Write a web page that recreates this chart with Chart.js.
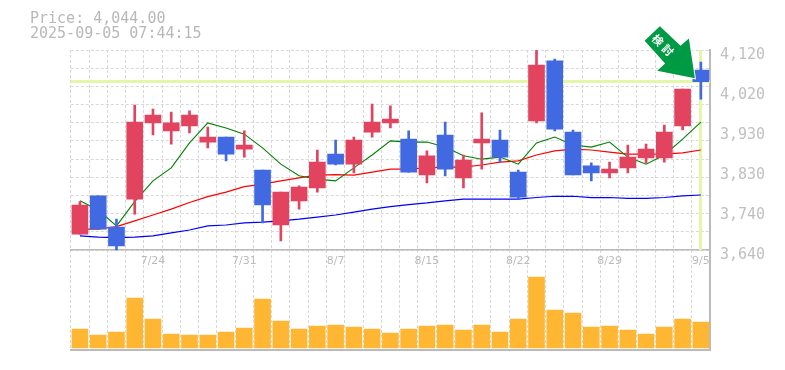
<!DOCTYPE html>
<html>
<head>
<meta charset="utf-8">
<title>Price chart</title>
<script src="https://cdn.jsdelivr.net/npm/chart.js@4"></script>
<style>
    html, body { margin: 0; padding: 0; background: #fff; }
    .chart-container { position: relative; width: 785px; height: 370px; overflow: hidden; }
    .chart-title { position: absolute; left: 30px; top: 11px; margin: 0; color: #b8b8b8; font: 15px/15px "DejaVu Sans Mono", monospace; white-space: pre; }
    canvas { display: block; }
</style>
</head>
<body>
<div class="chart-container">
    <div class="chart-title">Price: 4,044.00
2025-09-05 07:44:15</div>
    <canvas id="priceChart" width="785" height="370"></canvas>
</div>
<script>
const dates = ['7/17', '7/18', '7/22', '7/23', '7/24', '7/25', '7/28', '7/29', '7/30', '7/31', '8/1', '8/4', '8/5', '8/6', '8/7', '8/8', '8/12', '8/13', '8/14', '8/15', '8/18', '8/19', '8/20', '8/21', '8/22', '8/25', '8/26', '8/27', '8/28', '8/29', '9/1', '9/2', '9/3', '9/4', '9/5'];
const opens = [3678, 3770, 3695, 3762, 3945, 3926, 3938, 3899, 3911, 3882, 3832, 3700, 3758, 3789, 3870, 3846, 3923, 3945, 3906, 3820, 3916, 3813, 3897, 3904, 3827, 3950, 4094, 3923, 3842, 3825, 3837, 3861, 3861, 3938, 4072];
const closes = [3748, 3690, 3650, 3947, 3964, 3945, 3964, 3911, 3870, 3892, 3748, 3779, 3791, 3851, 3846, 3904, 3947, 3954, 3827, 3866, 3834, 3856, 3906, 3863, 3767, 4084, 3930, 3820, 3825, 3834, 3863, 3882, 3923, 4026, 4044];
const highs = [3756, 3770, 3714, 3988, 3978, 3971, 3974, 3935, 3911, 3926, 3832, 3779, 3794, 3880, 3904, 3911, 3990, 3986, 3926, 3878, 3947, 3868, 3969, 3928, 3832, 4120, 4098, 3928, 3849, 3851, 3892, 3894, 3940, 4026, 4091];
const lows = [3678, 3690, 3640, 3726, 3916, 3894, 3921, 3885, 3854, 3863, 3705, 3662, 3738, 3779, 3844, 3825, 3911, 3933, 3827, 3801, 3818, 3789, 3834, 3851, 3762, 3945, 3926, 3820, 3806, 3813, 3825, 3849, 3851, 3928, 4002];
const ma5 = [3758, 3736, 3698, 3756, 3806, 3837, 3897, 3945, 3933, 3918, 3885, 3846, 3818, 3810, 3806, 3837, 3868, 3902, 3899, 3899, 3887, 3866, 3858, 3863, 3846, 3897, 3911, 3892, 3887, 3899, 3863, 3846, 3868, 3906, 3947];
const ma25 = [3690, 3690, 3696, 3710, 3724, 3738, 3754, 3768, 3779, 3792, 3798, 3806, 3813, 3820, 3821, 3820, 3827, 3834, 3834, 3837, 3839, 3839, 3844, 3851, 3854, 3868, 3878, 3882, 3880, 3875, 3870, 3870, 3870, 3873, 3880];
const ma75 = [3674, 3671, 3670, 3671, 3674, 3681, 3688, 3698, 3700, 3705, 3707, 3710, 3714, 3719, 3724, 3731, 3738, 3744, 3749, 3753, 3758, 3762, 3762, 3762, 3762, 3766, 3769, 3769, 3766, 3766, 3764, 3764, 3766, 3770, 3772];
const volumes = [19, 13, 16, 50, 29, 14, 13, 13, 16, 20, 49, 27, 19, 22, 23, 21, 19, 15, 19, 22, 23, 18, 23, 16, 29, 71, 38, 35, 21, 22, 18, 14, 21, 29, 26];
const priceTicks = [3640, 3736, 3832, 3928, 4024, 4120];
const priceTickLabels = ['3,640', '3,740', '3,830', '3,930', '4,020', '4,120'];
const gridTicks = [3640, 3683.6, 3727.3, 3770.9, 3814.5, 3858.2, 3901.8, 3945.5, 3989.1, 4032.7, 4076.4, 4120];
const currentPrice = 4044;

const RED = '#e2435f';
const BLUE = '#4169e1';
const GREY = '#bbb';
const GRID = '#d8d8d8';
const HIGHLIGHT = '#e3f6a9';

const candleColors = opens.map((o, i) => closes[i] >= o ? RED : BLUE);

// pale cross at the latest price, sits under the marks
const highlightPlugin = {
    id: 'highlight',
    beforeDatasetsDraw(chart) {
        const { ctx, chartArea, scales } = chart;
        const py = Math.round(scales.y.getPixelForValue(currentPrice));
        const px = Math.round(scales.x.getPixelForValue(dates.length - 1));
        ctx.save();
        ctx.fillStyle = HIGHLIGHT;
        ctx.fillRect(chartArea.left, py - 2, chartArea.width, 3);
        ctx.fillRect(px - 2, chartArea.top, 3, scales.y.getPixelForValue(3640) - chartArea.top);
        ctx.restore();
    }
};

// green arrow sticker pointing at the latest candle
const arrowPlugin = {
    id: 'arrow',
    afterDraw(chart) {
        const { ctx, scales } = chart;
        const tipX = scales.x.getPixelForValue(dates.length - 1) - 6;
        const tipY = scales.y.getPixelForValue(currentPrice) - 3.5;
        const shape = [[-50.3, -37.3], [-35, -52], [-14.3, -32.3], [-6, -39.7], [0, 0], [-37.7, -7.3], [-29.7, -14.7]];
        ctx.save();
        ctx.translate(tipX, tipY);
        ctx.beginPath();
        shape.forEach((p, i) => i ? ctx.lineTo(p[0], p[1]) : ctx.moveTo(p[0], p[1]));
        ctx.closePath();
        ctx.strokeStyle = '#fff';
        ctx.lineWidth = 2;
        ctx.stroke();
        ctx.fillStyle = '#009944';
        ctx.fill();
        ctx.translate(-32, -33);
        ctx.rotate(Math.PI / 4);
        ctx.fillStyle = '#fff';
        ctx.font = 'bold 11px "Noto Sans CJK JP"';
        ctx.textAlign = 'center';
        ctx.textBaseline = 'middle';
        ctx.fillText('検', -7, 0);
        ctx.fillText('討', 7, 0);
        ctx.restore();
    }
};

const ctx = document.getElementById('priceChart').getContext('2d');
new Chart(ctx, {
    type: 'bar',
    plugins: [highlightPlugin, arrowPlugin],
    data: {
        labels: dates,
        datasets: [
            { label: 'Volume', data: volumes, yAxisID: 'yVol', backgroundColor: '#ffb733', barThickness: 16, order: 5 },
            { type: 'line', label: 'MA75', data: ma75, borderColor: '#0000ff', borderWidth: 1.25, pointRadius: 0, tension: 0, order: 4 },
            { type: 'line', label: 'MA25', data: ma25, borderColor: '#ff0000', borderWidth: 1.25, pointRadius: 0, tension: 0, order: 3 },
            { type: 'line', label: 'MA5', data: ma5, borderColor: '#008000', borderWidth: 1.1, pointRadius: 0, tension: 0, order: 2 },
            { label: 'Wick', data: lows.map((l, i) => [l, highs[i]]), backgroundColor: candleColors, barThickness: 2, order: 1 },
            { label: 'Body', data: opens.map((o, i) => [o, closes[i]]), backgroundColor: candleColors, barThickness: 16, order: 0 }
        ]
    },
    options: {
        responsive: false,
        animation: false,
        layout: { padding: { left: 70.8, top: 50, right: 0, bottom: 20 } },
        plugins: { legend: { display: false }, tooltip: { enabled: false } },
        datasets: { bar: { grouped: false } },
        scales: {
            x: {
                offset: true,
                position: { y: 3640 },
                grid: { offset: true, color: GRID, drawTicks: false },
                border: { color: GREY, width: 1.5, dash: [3, 2] },
                ticks: {
                    autoSkip: false,
                    maxRotation: 0,
                    padding: 5,
                    color: GREY,
                    font: { family: '"DejaVu Sans", sans-serif', size: 11 },
                    callback(value, index) { return index % 5 === 4 ? this.getLabelForValue(value) : ''; }
                }
            },
            xBottom: {
                axis: 'x',
                type: 'category',
                position: 'bottom',
                offset: true,
                grid: { display: false },
                border: { color: GREY, width: 2 },
                ticks: { display: false },
                afterFit(axis) { axis.height = 0; }
            },
            y: {
                position: 'right',
                weight: 5,
                min: 3400,
                max: 4120,
                grid: { display: false, drawTicks: false },
                border: { display: false },
                afterBuildTicks(axis) { axis.ticks = priceTicks.map(v => ({ value: v })); },
                afterFit(axis) { axis.width = 75; },
                ticks: {
                    autoSkip: false,
                    padding: 10,
                    labelOffset: 5,
                    color: '#c0c0c0',
                    font: { family: '"DejaVu Sans Mono", monospace', size: 15 },
                    callback(value, index) { return priceTickLabels[index]; }
                }
            },
            yGrid: {
                axis: 'y',
                position: 'right',
                weight: 0,
                min: 3400,
                max: 4120,
                grid: { color: GRID, drawTicks: false },
                border: { color: GREY, width: 2, dash: [3, 2] },
                afterBuildTicks(axis) { axis.ticks = gridTicks.map(v => ({ value: v })); },
                afterFit(axis) { axis.width = 0; },
                ticks: { display: false }
            },
            yVol: {
                display: false,
                min: -2,
                max: 298
            }
        }
    }
});
</script>
</body>
</html>
